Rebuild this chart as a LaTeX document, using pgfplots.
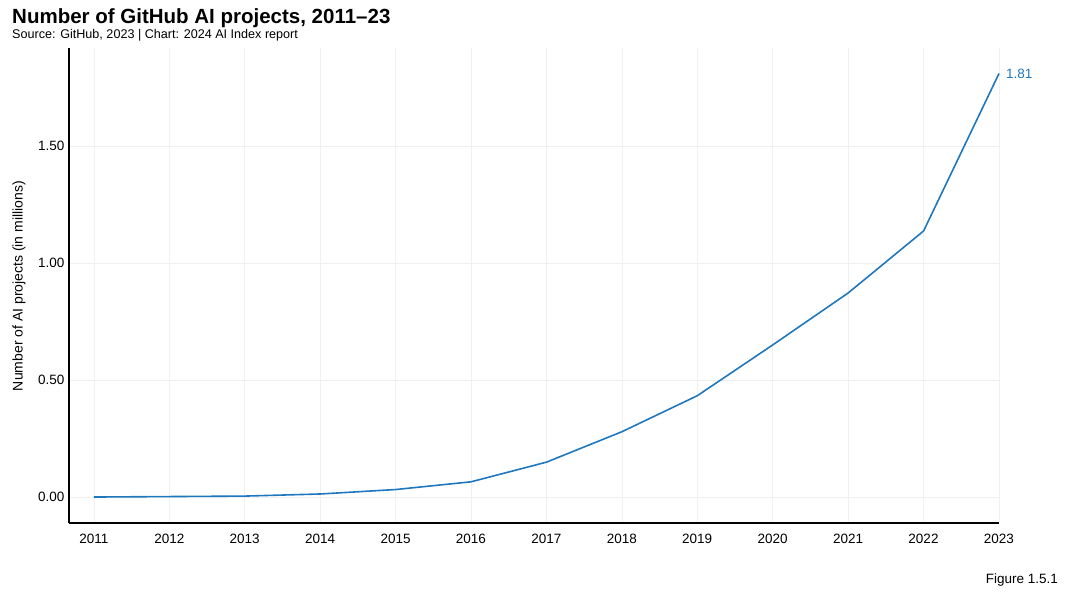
\documentclass[border=0pt]{standalone}
\usepackage{pgfplots}
\pgfplotsset{compat=1.18}
\usepackage{fontspec}
\setmainfont{Liberation Sans}
\definecolor{lineblue}{RGB}{31,119,190}
\definecolor{gridgray}{RGB}{240,240,240}
\begin{document}
\begin{tikzpicture}
\path[use as bounding box] (0pt,0pt) rectangle (1073pt,592pt);
\node[anchor=base west,inner sep=0pt,font=\fontsize{20.5}{24}\selectfont\bfseries] at (12pt,568pt) {Number of GitHub AI projects, 2011--23};
\node[anchor=base west,inner sep=0pt,font=\fontsize{12.6}{14}\selectfont] at (12pt,553pt) {Source: GitHub, 2023 | Chart: 2024 AI Index report};
\node[anchor=base east,inner sep=0pt,font=\fontsize{13.5}{15}\selectfont] at (1058pt,9pt) {Figure 1.5.1};
\node[rotate=90,inner sep=0pt,font=\fontsize{14}{16}\selectfont] at (19pt,306pt) {Number of AI projects (in millions)};
\begin{axis}[
  at={(69pt,69pt)}, anchor=south west,
  scale only axis, width=930pt, height=475pt,
  xmin=2010.67, xmax=2023, ymin=-0.111, ymax=1.919,
  axis x line*=bottom, axis y line*=left,
  axis line style={-, line width=1.6pt, black},
  xtick={2011,...,2023}, ytick={0,0.5,1,1.5},
  major tick length=0pt,
  grid=major, major grid style={gridgray, line width=0.6pt},
  /pgf/number format/assume math mode=true,
  xticklabel style={/pgf/number format/1000 sep={}, font=\fontsize{13.5}{15}\selectfont, yshift=-8pt},
  yticklabel style={/pgf/number format/fixed, /pgf/number format/fixed zerofill, /pgf/number format/precision=2, font=\fontsize{13.5}{15}\selectfont, xshift=-1pt},
  clip=false,
]
\addplot[lineblue, line width=1.6pt] coordinates {
(2011,0.000) (2012,0.002) (2013,0.004) (2014,0.013) (2015,0.032) (2016,0.065) (2017,0.149) (2018,0.279) (2019,0.433) (2020,0.650) (2021,0.872) (2022,1.137) (2023,1.81)};
\node[anchor=west, text=lineblue, font=\fontsize{13.5}{15}\selectfont, inner sep=0pt] at (axis cs:2023,1.81) {\hspace{7pt}1.81};
\end{axis}
\end{tikzpicture}
\end{document}
